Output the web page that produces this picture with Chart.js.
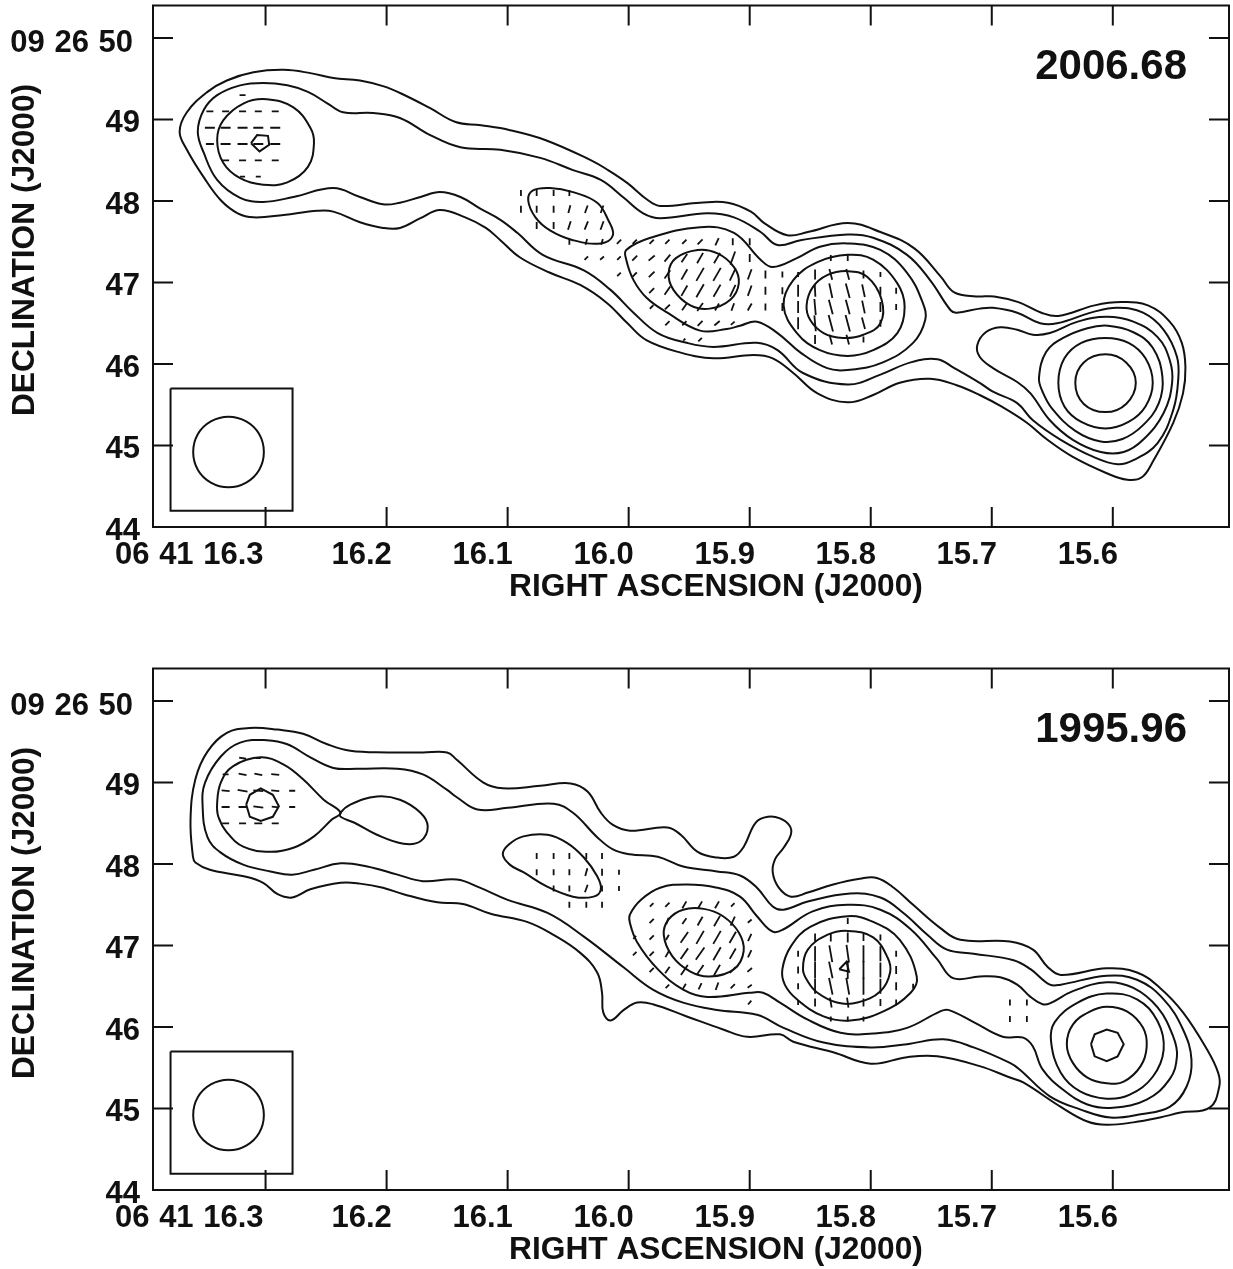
<!DOCTYPE html>
<html><head><meta charset="utf-8">
<style>html,body{margin:0;padding:0;background:#fff;width:1233px;height:1269px;overflow:hidden}
canvas{position:absolute;left:0}</style>
<script src="https://cdn.jsdelivr.net/npm/chart.js@4"></script></head><body>
<canvas id="a" width="1233" height="606" style="top:0"></canvas>
<canvas id="b" width="1233" height="606" style="top:663px"></canvas>
<script>
const raTicks=[16.3,16.2,16.1,16.0,15.9,15.8,15.7,15.6];
const decTicks=[44,45,46,47,48,49,50];
const beamBox=[[16.3785,45.70],[16.2777,45.70],[16.2777,44.20],[16.3785,44.20],[16.3785,45.70]];
const beam=[[16.3014,44.92],[16.3053,45.14],[16.316,45.295],[16.3306,45.353],[16.3452,45.295],[16.3559,45.14],[16.3598,44.92],[16.3559,44.70],[16.3452,44.545],[16.3306,44.487],[16.316,44.545],[16.3053,44.70]];

/* 2006.68 contours: [RA seconds, Dec arcsec] */
const t1=[[16.371,48.85],[16.365,49.09],[16.348,49.34],[16.332,49.48],[16.310,49.58],[16.285,49.61],[16.263,49.57],[16.244,49.51],[16.222,49.48],[16.203,49.41],[16.188,49.32],[16.164,49.14],[16.143,48.97],[16.122,48.93],[16.098,48.87],[16.069,48.75],[16.031,48.50],[16.017,48.38],[16.001,48.22],[15.984,48.01],[15.974,47.94],[15.941,47.98],[15.918,47.98],[15.899,47.87],[15.888,47.73],[15.869,47.58],[15.852,47.62],[15.819,47.73],[15.792,47.62],[15.764,47.42],[15.742,47.07],[15.731,46.88],[15.713,46.83],[15.698,46.83],[15.678,46.76],[15.659,46.63],[15.645,46.59],[15.615,46.72],[15.593,46.76],[15.571,46.72],[15.553,46.52],[15.543,46.26],[15.540,45.96],[15.542,45.64],[15.550,45.28],[15.567,44.80],[15.576,44.61],[15.588,44.58],[15.605,44.66],[15.633,44.86],[15.654,45.07],[15.671,45.28],[15.691,45.47],[15.710,45.62],[15.729,45.74],[15.751,45.82],[15.776,45.77],[15.798,45.62],[15.819,45.53],[15.844,45.64],[15.864,45.89],[15.881,46.07],[15.897,46.11],[15.930,46.07],[15.957,46.14],[15.985,46.29],[16.001,46.50],[16.018,46.75],[16.040,46.97],[16.065,47.12],[16.090,47.31],[16.106,47.52],[16.118,47.67],[16.135,47.80],[16.156,47.89],[16.172,47.79],[16.189,47.67],[16.203,47.67],[16.222,47.74],[16.244,47.87],[16.257,47.88],[16.285,47.83],[16.310,47.80],[16.323,47.85],[16.337,48.01],[16.351,48.29],[16.365,48.63]];
const t2=[[16.356,48.85],[16.351,49.12],[16.340,49.30],[16.321,49.42],[16.302,49.45],[16.282,49.42],[16.265,49.34],[16.249,49.20],[16.236,49.09],[16.211,49.08],[16.189,49.02],[16.164,48.81],[16.139,48.66],[16.106,48.63],[16.073,48.53],[16.046,48.38],[16.023,48.26],[16.004,48.04],[15.988,47.85],[15.974,47.79],[15.935,47.85],[15.913,47.80],[15.891,47.62],[15.877,47.46],[15.858,47.52],[15.819,47.59],[15.798,47.55],[15.770,47.34],[15.751,47.03],[15.734,46.66],[15.729,46.63],[15.710,46.68],[15.699,46.69],[15.679,46.63],[15.660,46.50],[15.646,46.50],[15.616,46.64],[15.596,46.69],[15.575,46.63],[15.558,46.42],[15.547,46.09],[15.546,45.80],[15.550,45.44],[15.563,45.03],[15.583,44.82],[15.596,44.77],[15.616,44.86],[15.643,45.07],[15.666,45.31],[15.679,45.52],[15.699,45.66],[15.710,45.77],[15.732,45.96],[15.745,46.06],[15.767,46.02],[15.792,45.87],[15.819,45.75],[15.856,45.89],[15.877,46.17],[15.894,46.26],[15.930,46.21],[15.952,46.26],[15.976,46.38],[15.996,46.63],[16.015,46.91],[16.037,47.15],[16.071,47.34],[16.092,47.61],[16.106,47.77],[16.123,47.91],[16.139,48.05],[16.156,48.11],[16.172,48.05],[16.189,47.98],[16.203,47.96],[16.222,48.05],[16.244,48.16],[16.277,48.05],[16.302,47.99],[16.321,48.04],[16.340,48.26],[16.351,48.59]];
const t3=[[16.340,48.75],[16.335,48.99],[16.318,49.20],[16.299,49.25],[16.277,49.15],[16.263,48.90],[16.260,48.71],[16.265,48.42],[16.282,48.23],[16.302,48.20],[16.321,48.28],[16.335,48.47]];
const t4=[[16.312,48.71],[16.307,48.81],[16.298,48.80],[16.297,48.69],[16.305,48.61]];
const t5=[[16.083,48.01],[16.079,48.13],[16.065,48.16],[16.046,48.11],[16.026,47.98],[16.017,47.77],[16.013,47.58],[16.023,47.48],[16.046,47.52],[16.065,47.64],[16.077,47.80]];
const t6=[[16.002,47.40],[15.982,47.55],[15.941,47.68],[15.913,47.61],[15.891,47.28],[15.881,47.19],[15.861,47.30],[15.842,47.44],[15.819,47.48],[15.792,47.40],[15.770,47.12],[15.757,46.75],[15.755,46.54],[15.765,46.26],[15.790,46.02],[15.817,45.93],[15.836,45.95],[15.858,46.14],[15.877,46.38],[15.894,46.52],[15.908,46.47],[15.919,46.43],[15.941,46.41],[15.968,46.63],[15.985,46.81],[15.996,47.03],[16.002,47.28]];
const t7=[[15.872,46.72],[15.864,47.03],[15.844,47.25],[15.819,47.34],[15.798,47.28],[15.778,46.99],[15.772,46.70],[15.778,46.38],[15.798,46.17],[15.819,46.10],[15.842,46.17],[15.861,46.38]];
const t8=[[15.853,46.72],[15.848,46.94],[15.836,47.09],[15.819,47.14],[15.803,47.07],[15.791,46.79],[15.792,46.50],[15.806,46.36],[15.823,46.32],[15.839,46.38],[15.850,46.54]];
const t9=[[15.967,47.12],[15.961,47.30],[15.943,47.40],[15.927,47.36],[15.913,47.19],[15.909,46.99],[15.916,46.79],[15.933,46.68],[15.949,46.72],[15.963,46.91]];
const t10=[[15.712,46.23],[15.705,46.39],[15.693,46.45],[15.679,46.42],[15.666,46.36],[15.652,46.38],[15.629,46.52],[15.605,46.58],[15.583,46.52],[15.563,46.33],[15.553,46.05],[15.551,45.77],[15.558,45.40],[15.575,45.07],[15.591,44.92],[15.610,44.92],[15.633,45.07],[15.652,45.31],[15.668,45.64],[15.679,45.78],[15.699,45.95],[15.710,46.09]];
const t11=[[15.661,45.83],[15.655,46.15],[15.641,46.32],[15.621,46.44],[15.604,46.47],[15.583,46.39],[15.567,46.20],[15.559,45.84],[15.562,45.52],[15.575,45.25],[15.592,45.08],[15.610,45.05],[15.631,45.18],[15.650,45.45],[15.658,45.66]];
const t12=[[15.645,45.77],[15.640,46.07],[15.626,46.26],[15.606,46.32],[15.587,46.26],[15.573,46.07],[15.567,45.77],[15.573,45.48],[15.587,45.29],[15.606,45.21],[15.626,45.29],[15.640,45.48]];
const t13=[[15.631,45.77],[15.624,46.02],[15.606,46.12],[15.589,46.02],[15.581,45.77],[15.589,45.51],[15.606,45.41],[15.624,45.51]];

/* 1995.96 contours */
const b1=[[16.360,48.09],[16.362,48.55],[16.358,49.04],[16.348,49.38],[16.332,49.61],[16.313,49.67],[16.290,49.65],[16.269,49.60],[16.249,49.47],[16.230,49.39],[16.199,49.37],[16.170,49.37],[16.150,49.37],[16.142,49.28],[16.120,49.00],[16.104,48.93],[16.073,48.96],[16.048,48.99],[16.034,48.89],[16.023,48.63],[16.013,48.48],[15.999,48.41],[15.968,48.45],[15.957,48.36],[15.943,48.15],[15.927,48.08],[15.913,48.09],[15.905,48.21],[15.895,48.51],[15.885,48.58],[15.875,48.56],[15.867,48.47],[15.866,48.36],[15.872,48.20],[15.879,48.06],[15.881,47.90],[15.876,47.71],[15.866,47.60],[15.852,47.65],[15.831,47.75],[15.809,47.82],[15.795,47.83],[15.781,47.71],[15.765,47.50],[15.743,47.22],[15.726,47.07],[15.685,47.05],[15.666,46.95],[15.654,46.74],[15.643,46.64],[15.605,46.72],[15.580,46.67],[15.561,46.48],[15.542,46.18],[15.522,45.72],[15.513,45.44],[15.512,45.27],[15.520,45.01],[15.544,44.95],[15.561,44.89],[15.583,44.83],[15.605,44.80],[15.621,44.84],[15.643,45.02],[15.674,45.32],[15.685,45.38],[15.710,45.52],[15.745,45.64],[15.770,45.63],[15.800,45.55],[15.831,45.69],[15.864,45.82],[15.875,45.91],[15.902,45.88],[15.922,45.97],[15.952,46.13],[15.980,46.28],[15.993,46.30],[16.004,46.21],[16.015,46.08],[16.021,46.18],[16.022,46.42],[16.026,46.67],[16.040,46.91],[16.062,47.13],[16.084,47.29],[16.114,47.39],[16.137,47.51],[16.158,47.53],[16.186,47.63],[16.203,47.71],[16.222,47.76],[16.238,47.77],[16.263,47.69],[16.278,47.59],[16.290,47.63],[16.302,47.77],[16.318,47.85],[16.346,47.93],[16.358,48.02]];
const b2=[[16.352,48.71],[16.350,49.00],[16.337,49.32],[16.321,49.49],[16.299,49.52],[16.282,49.47],[16.263,49.31],[16.244,49.18],[16.224,49.17],[16.191,49.17],[16.170,49.10],[16.150,48.91],[16.142,48.82],[16.125,48.67],[16.100,48.69],[16.062,48.74],[16.046,48.63],[16.026,48.33],[16.013,48.18],[15.999,48.12],[15.976,48.09],[15.955,47.97],[15.927,47.91],[15.908,47.86],[15.894,47.71],[15.881,47.48],[15.872,47.44],[15.852,47.54],[15.817,47.64],[15.792,47.59],[15.773,47.40],[15.753,47.13],[15.737,46.95],[15.715,46.90],[15.682,46.82],[15.668,46.71],[15.652,46.52],[15.643,46.52],[15.605,46.63],[15.580,46.58],[15.558,46.34],[15.542,45.97],[15.535,45.60],[15.539,45.27],[15.553,45.02],[15.577,44.93],[15.602,44.89],[15.627,44.99],[15.652,45.15],[15.677,45.48],[15.685,45.56],[15.715,45.75],[15.740,45.85],[15.770,45.79],[15.800,45.75],[15.839,45.81],[15.872,45.99],[15.894,46.15],[15.927,46.21],[15.955,46.30],[15.980,46.46],[16.004,46.73],[16.037,47.11],[16.067,47.40],[16.100,47.56],[16.123,47.71],[16.142,47.81],[16.170,47.79],[16.191,47.87],[16.216,47.97],[16.238,48.01],[16.260,47.93],[16.278,47.87],[16.296,47.91],[16.318,47.99],[16.337,48.14],[16.348,48.33]];
const b3=[[16.340,48.75],[16.337,49.00],[16.327,49.20],[16.304,49.31],[16.285,49.22],[16.269,49.04],[16.252,48.79],[16.238,48.63],[16.245,48.55],[16.260,48.34],[16.277,48.20],[16.296,48.15],[16.318,48.21],[16.332,48.39],[16.339,48.58]];
const b4=[[16.238,48.63],[16.230,48.73],[16.208,48.83],[16.189,48.79],[16.172,48.63],[16.166,48.46],[16.172,48.28],[16.186,48.25],[16.208,48.36],[16.227,48.51],[16.238,48.58]];
const b5=[[16.316,48.73],[16.313,48.85],[16.304,48.93],[16.294,48.85],[16.289,48.71],[16.294,48.58],[16.304,48.53],[16.313,48.58]];
const b6=[[16.104,48.12],[16.099,48.24],[16.087,48.34],[16.067,48.36],[16.051,48.26],[16.037,48.08],[16.026,47.85],[16.023,47.69],[16.029,47.60],[16.046,47.60],[16.067,47.72],[16.087,47.90],[16.098,47.99]];
const b7=[[15.999,47.38],[15.990,47.56],[15.974,47.71],[15.952,47.75],[15.927,47.71],[15.908,47.60],[15.894,47.36],[15.881,47.17],[15.872,47.20],[15.848,47.42],[15.819,47.50],[15.792,47.44],[15.767,47.20],[15.745,46.83],[15.732,46.60],[15.710,46.62],[15.693,46.61],[15.679,46.52],[15.668,46.37],[15.658,46.28],[15.652,46.29],[15.633,46.44],[15.605,46.55],[15.583,46.48],[15.563,46.24],[15.550,45.88],[15.547,45.64],[15.553,45.36],[15.572,45.11],[15.600,45.01],[15.621,45.05],[15.641,45.23],[15.658,45.48],[15.666,45.76],[15.674,45.87],[15.691,45.88],[15.715,46.06],[15.736,46.21],[15.743,46.19],[15.770,45.99],[15.798,45.92],[15.825,45.93],[15.852,46.09],[15.875,46.30],[15.889,46.42],[15.900,46.42],[15.935,46.37],[15.955,46.46],[15.976,46.71],[15.993,47.04],[15.999,47.28]];
const b8=[[15.873,46.71],[15.866,46.99],[15.850,47.23],[15.819,47.36],[15.798,47.29],[15.776,47.07],[15.762,46.62],[15.767,46.42],[15.790,46.19],[15.817,46.08],[15.839,46.13],[15.861,46.34],[15.871,46.52]];
const b9=[[15.856,46.71],[15.852,46.95],[15.836,47.13],[15.819,47.18],[15.798,47.10],[15.786,46.85],[15.784,46.67],[15.792,46.44],[15.811,46.30],[15.828,46.30],[15.844,46.42],[15.852,46.56]];
const b10=[[15.826,46.71],[15.820,46.80],[15.818,46.68]];
const b11=[[15.971,47.13],[15.967,47.32],[15.955,47.44],[15.938,47.45],[15.922,47.36],[15.909,47.16],[15.905,46.93],[15.913,46.71],[15.933,46.62],[15.949,46.68],[15.964,46.87]];
const b12=[[15.651,45.82],[15.648,46.06],[15.629,46.30],[15.605,46.41],[15.580,46.34],[15.563,46.07],[15.558,45.72],[15.567,45.39],[15.586,45.17],[15.605,45.12],[15.627,45.21],[15.643,45.44]];
const b13=[[15.638,45.79],[15.633,46.03],[15.619,46.19],[15.605,46.25],[15.588,46.19],[15.575,45.99],[15.572,45.76],[15.577,45.52],[15.591,45.33],[15.605,45.31],[15.621,45.38],[15.633,45.56]];
const b14=[[15.618,45.79],[15.615,45.91],[15.605,45.97],[15.596,45.93],[15.591,45.79],[15.596,45.64],[15.605,45.58],[15.615,45.64]];

/* polarisation vectors: [RA, Dec, screen angle deg, length] */
const polTop=[
[16.319,49.30,0,6],
[16.346,49.10,0,7],[16.333,49.10,0,7],[16.319,49.10,0,7],[16.306,49.10,0,7],[16.292,49.10,0,7],
[16.346,48.90,0,10],[16.333,48.90,0,10],[16.319,48.90,0,10],[16.306,48.90,0,10],[16.292,48.90,0,10],
[16.346,48.70,0,8],[16.333,48.70,0,10],[16.319,48.70,0,10],[16.306,48.70,0,10],[16.292,48.70,0,10],
[16.333,48.50,0,7],[16.319,48.50,0,7],[16.306,48.50,0,7],[16.292,48.50,0,7],
[16.319,48.30,0,5],[16.306,48.30,0,5],
[16.089,48.10,90,6],[16.076,48.10,90,6],[16.062,48.10,90,6],[16.049,48.10,90,6],
[16.089,47.90,90,7],[16.076,47.90,90,7],[16.062,47.90,90,7],[16.049,47.90,-75,8],[16.035,47.90,-70,8],[16.022,47.90,-70,8],
[16.076,47.70,90,7],[16.062,47.70,90,7],[16.049,47.70,-72,9],[16.035,47.70,-68,9],[16.022,47.70,-70,9],
[16.049,47.50,90,6],[16.035,47.50,-75,6],[16.022,47.50,-75,6],[16.008,47.50,-45,6],[15.995,47.50,-45,6],[15.981,47.50,-45,6],[15.968,47.50,-45,6],[15.954,47.50,-45,6],[15.941,47.50,-45,7],[15.927,47.50,-65,8],[15.914,47.50,90,7],[15.900,47.50,90,7],
[16.035,47.30,-45,5],[16.022,47.30,-40,5],[16.008,47.30,-45,5],[15.995,47.30,-45,7],[15.981,47.30,-40,8],[15.968,47.30,-50,9],[15.954,47.30,-55,10],[15.941,47.30,-60,12],[15.927,47.30,-60,12],[15.914,47.30,-70,14],[15.900,47.30,90,8],[15.833,47.30,90,6],[15.819,47.30,90,6],
[16.008,47.10,-45,5],[15.995,47.10,-45,6],[15.981,47.10,-45,8],[15.968,47.10,-55,10],[15.954,47.10,-60,12],[15.941,47.10,-60,15],[15.927,47.10,-60,15],[15.914,47.10,-65,14],[15.900,47.10,-70,11],[15.887,47.10,90,8],[15.873,47.10,90,6],[15.860,47.10,90,5],[15.846,47.10,90,10],[15.833,47.10,75,11],[15.819,47.10,75,11],[15.806,47.10,90,8],[15.792,47.10,90,5],
[15.981,46.90,-45,7],[15.968,46.90,-55,10],[15.954,46.90,-60,12],[15.941,46.90,-60,15],[15.927,46.90,-60,14],[15.914,46.90,-65,13],[15.900,46.90,-70,11],[15.887,46.90,90,8],[15.873,46.90,90,7],[15.860,46.90,90,12],[15.846,46.90,87,12],[15.833,46.90,78,15],[15.819,46.90,75,15],[15.806,46.90,78,13],[15.792,46.90,90,8],[15.779,46.90,90,6],
[15.981,46.70,-45,5],[15.968,46.70,-45,7],[15.954,46.70,-55,8],[15.941,46.70,-55,10],[15.927,46.70,-60,8],[15.914,46.70,-70,8],[15.900,46.70,-60,8],[15.887,46.70,90,7],[15.873,46.70,90,8],[15.860,46.70,90,12],[15.846,46.70,85,16],[15.833,46.70,75,15],[15.819,46.70,75,15],[15.806,46.70,78,13],[15.792,46.70,90,10],[15.779,46.70,90,6],
[15.968,46.50,-45,6],[15.954,46.50,-45,6],[15.941,46.50,-45,7],[15.927,46.50,-40,7],[15.914,46.50,-40,5],[15.860,46.50,90,12],[15.846,46.50,85,16],[15.833,46.50,75,17],[15.819,46.50,75,17],[15.806,46.50,75,12],[15.792,46.50,90,7],
[15.954,46.30,-45,3],[15.941,46.30,-45,5],[15.846,46.30,90,9],[15.833,46.30,75,10],[15.819,46.30,75,10],[15.806,46.30,90,6]];
const polBottom=[
[16.319,49.30,10,7],[16.306,49.30,0,5],
[16.333,49.10,0,6],[16.319,49.10,10,8],[16.306,49.10,10,8],[16.292,49.10,5,8],
[16.333,48.90,5,8],[16.319,48.90,10,10],[16.306,48.90,5,10],[16.292,48.90,5,8],[16.278,48.90,0,6],
[16.333,48.70,0,8],[16.319,48.70,0,8],[16.306,48.70,8,10],[16.292,48.70,5,7],[16.278,48.70,0,6],
[16.333,48.50,0,7],[16.319,48.50,0,7],[16.306,48.50,0,8],[16.292,48.50,0,7],
[16.076,48.10,90,6],[16.062,48.10,90,6],[16.049,48.10,90,6],[16.035,48.10,90,6],[16.022,48.10,90,6],
[16.076,47.90,90,6],[16.062,47.90,90,6],[16.049,47.90,90,6],[16.035,47.90,-75,8],[16.022,47.90,90,7],[16.008,47.90,90,5],
[16.062,47.70,90,6],[16.049,47.70,90,6],[16.035,47.70,-70,8],[16.022,47.70,90,6],[16.008,47.70,90,5],
[16.049,47.50,90,6],[16.035,47.50,90,6],[16.022,47.50,90,6],[15.981,47.50,-45,5],[15.968,47.50,-45,6],[15.954,47.50,-60,8],[15.941,47.50,-60,8],[15.927,47.50,-60,8],[15.914,47.50,-45,5],
[15.981,47.30,-45,6],[15.968,47.30,-70,7],[15.954,47.30,-55,7],[15.941,47.30,-60,10],[15.927,47.30,-60,12],[15.914,47.30,-65,10],[15.900,47.30,-40,5],[15.819,47.30,90,6],
[15.995,47.10,-45,4],[15.981,47.10,-45,6],[15.968,47.10,-60,6],[15.954,47.10,-55,13],[15.941,47.10,-60,15],[15.927,47.10,-60,15],[15.914,47.10,-60,13],[15.900,47.10,-65,8],[15.846,47.10,90,8],[15.833,47.10,90,8],[15.819,47.10,90,10],[15.806,47.10,90,7],[15.792,47.10,90,6],
[15.995,46.90,-45,5],[15.981,46.90,-45,6],[15.968,46.90,-60,8],[15.954,46.90,-55,13],[15.941,46.90,-55,15],[15.927,46.90,-60,15],[15.914,46.90,-60,12],[15.900,46.90,-65,8],[15.860,46.90,90,6],[15.846,46.90,90,15],[15.833,46.90,80,17],[15.819,46.90,82,18],[15.806,46.90,90,17],[15.792,46.90,90,15],[15.779,46.90,90,6],
[15.981,46.70,-45,6],[15.968,46.70,-55,8],[15.954,46.70,-55,12],[15.941,46.70,-55,12],[15.927,46.70,-60,12],[15.914,46.70,-45,8],[15.900,46.70,-40,6],[15.860,46.70,90,7],[15.846,46.70,90,17],[15.833,46.70,78,17],[15.819,46.70,90,18],[15.806,46.70,90,18],[15.792,46.70,90,15],[15.779,46.70,90,8],
[15.968,46.50,-45,5],[15.954,46.50,-60,6],[15.941,46.50,-65,7],[15.927,46.50,-70,8],[15.914,46.50,-45,6],[15.900,46.50,-35,5],[15.860,46.50,90,6],[15.846,46.50,90,15],[15.833,46.50,78,17],[15.819,46.50,80,17],[15.806,46.50,90,17],[15.792,46.50,90,15],[15.779,46.50,90,8],[15.765,46.50,90,5],
[15.900,46.30,-50,5],[15.860,46.30,90,5],[15.846,46.30,90,8],[15.833,46.30,80,10],[15.819,46.30,82,10],[15.806,46.30,90,8],[15.792,46.30,90,7],[15.779,46.30,90,6],[15.685,46.30,90,6],[15.671,46.30,90,6],
[15.833,46.10,90,5],[15.819,46.10,90,5],[15.806,46.10,90,5],[15.685,46.10,90,6],[15.671,46.10,90,6]];

const smoothTop=[t1,t2,t3,t5,t6,t7,t8,t9,t10,t11,t12,t13];
const sharpTop=[t4];
const smoothBottom=[b1,b2,b3,b4,b6,b7,b8,b9,b11,b12,b13];
const sharpBottom=[b5,b10,b14];

const INK='#111';
const FONT='bold 31px "Liberation Sans", Arial, sans-serif';
const TITLE='bold 31.7px "Liberation Sans", Arial, sans-serif';
const xy=p=>({x:p[0],y:p[1]});
const loop=a=>[...a,a[0]].map(xy);
function lineDs(data,tension){return {type:'scatter',showLine:true,data,tension,borderColor:INK,borderWidth:2,pointRadius:0,fill:false};}
/* closed smooth contour: wrap one point on each side, hide the two wrap segments so the curve closes without a corner */
function smoothDs(a){
  const d=[a[a.length-1],...a,a[0],a[1]].map(xy),n=d.length;
  const ds=lineDs(d,0.4);
  ds.segment={borderColor:c=>(c.p0DataIndex===0||c.p1DataIndex===n-1)?'rgba(0,0,0,0)':undefined};
  return ds;
}

function makeChart(id,smooth,sharp,pol,epoch){
  const decorate={id:'decorate',afterDatasetsDraw(c){
    const g=c.ctx,a=c.chartArea,sx=c.scales.x,sy=c.scales.y;
    g.save();g.strokeStyle=INK;g.lineWidth=2;
    g.strokeRect(a.left,a.top,a.right-a.left,a.bottom-a.top);
    g.beginPath();
    raTicks.forEach(v=>{const p=sx.getPixelForValue(v);g.moveTo(p,a.top);g.lineTo(p,a.top+20);g.moveTo(p,a.bottom);g.lineTo(p,a.bottom-20);});
    decTicks.forEach(v=>{const p=sy.getPixelForValue(v);g.moveTo(a.left,p);g.lineTo(a.left+20,p);g.moveTo(a.right,p);g.lineTo(a.right-20,p);});
    g.stroke();
    g.fillStyle=INK;g.font=FONT;g.textBaseline='middle';
    if('wordSpacing' in g)g.wordSpacing='1px';
    g.textAlign='right';
    g.fillText('09 26 50',133,sy.getPixelForValue(50)+5);
    g.fillText('06 41 16.3',sx.getPixelForValue(16.3)-2,555);
    if('wordSpacing' in g)g.wordSpacing='0px';
    g.textAlign='center';g.font=TITLE;
    g.fillText('RIGHT ASCENSION (J2000)',716,587);
    g.save();g.translate(25,250);g.rotate(-Math.PI/2);g.fillText('DECLINATION (J2000)',0,0);g.restore();
    g.textAlign='right';g.font='bold 42px "Liberation Sans", Arial, sans-serif';
    g.fillText(epoch,1187,67);
    g.restore();
  }};
  new Chart(document.getElementById(id),{
    type:'scatter',
    data:{datasets:[
      ...smooth.map(smoothDs),
      ...sharp.map(a=>lineDs(loop(a),0)),
      lineDs(beamBox.map(xy),0),
      smoothDs(beam),
      {type:'scatter',showLine:false,data:pol.map(xy),pointStyle:'line',
       pointRotation:pol.map(p=>p[2]),pointRadius:pol.map(p=>p[3]/2),
       pointBorderColor:INK,pointBorderWidth:1.8,pointBackgroundColor:INK}
    ]},
    options:{responsive:false,animation:false,events:[],devicePixelRatio:1,
      layout:{autoPadding:false,padding:{top:5.5,right:4,left:0,bottom:0}},
      plugins:{legend:{display:false},tooltip:{enabled:false}},
      scales:{
        x:{type:'linear',reverse:true,min:15.504,max:16.393,
          grid:{display:false},border:{display:false},
          afterFit(s){s.height=79;s.paddingLeft=0;s.paddingRight=0;},
          afterBuildTicks(s){s.ticks=raTicks.map(value=>({value}));},
          ticks:{autoSkip:false,maxRotation:0,minRotation:0,labelOffset:-25,padding:2,color:INK,
            font:{family:'"Liberation Sans"',weight:'bold',size:31},
            callback:v=>v===16.3?'':v.toFixed(1)}},
        y:{type:'linear',min:44,max:50.4,
          grid:{display:false},border:{display:false},
          afterFit(s){s.width=153;s.paddingTop=0;s.paddingBottom=0;},
          afterBuildTicks(s){s.ticks=decTicks.map(value=>({value}));},
          ticks:{autoSkip:false,padding:5,labelOffset:4,color:INK,
            font:{family:'"Liberation Sans"',weight:'bold',size:31},
            callback:v=>v===50?'':String(v)}}
      }},
    plugins:[decorate]
  });
}
makeChart('a',smoothTop,sharpTop,polTop,'2006.68');
makeChart('b',smoothBottom,sharpBottom,polBottom,'1995.96');
</script></body></html>
